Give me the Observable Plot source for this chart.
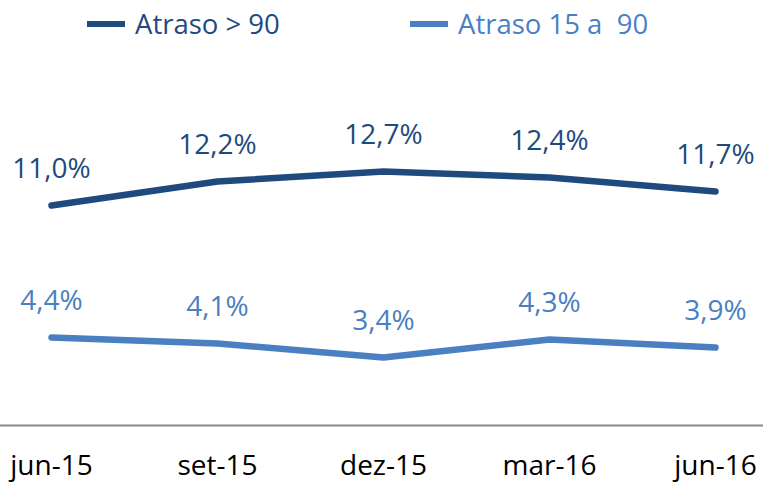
<!DOCTYPE html>
<html><head><meta charset="utf-8">
<script src="https://cdn.jsdelivr.net/npm/d3@7"></script>
<script src="https://cdn.jsdelivr.net/npm/@observablehq/plot@0.6"></script>
<style>
body{margin:0;background:#fff;font-family:"Open Sans",sans-serif;}
#wrap{position:relative;width:763px;height:482px;}
#legend{position:relative;height:50px;}
.lg{position:absolute;top:5px;display:flex;align-items:center;font-size:27.5px;}
.sw{width:38px;height:6px;margin-right:10px;}
#chart{position:absolute;top:50px;left:0;}
</style></head>
<body><div id="wrap"><div id="legend"></div><div id="chart"></div></div>
<script>
const periods = ["jun-15","set-15","dez-15","mar-16","jun-16"];
const series = ["Atraso > 90","Atraso 15 a  90"];
const over90 = [11.0,12.2,12.7,12.4,11.7];
const from15to90 = [4.4,4.1,3.4,4.3,3.9];
const colors = ["#1F4A7E","#4A7FC1"];

const data = [];
periods.forEach((p,i)=>{
  data.push({period:p, series:series[0], value:over90[i]});
  data.push({period:p, series:series[1], value:from15to90[i]});
});
const fmt = v => d3.format(".1f")(v).replace(".",",") + "%";

const leg = document.getElementById("legend");
const legPos = [87,410];
series.forEach((s,i)=>{
  const d = document.createElement("div");
  d.className="lg"; d.style.left=legPos[i]+"px"; d.style.color=colors[i];
  d.innerHTML = `<span class="sw" style="background:${colors[i]}"></span><span style="white-space:pre">${s}</span>`;
  leg.appendChild(d);
});

const chart = Plot.plot({
  width:763, height:432,
  marginLeft:0, marginRight:0, marginTop:0, marginBottom:57,
  style:{fontFamily:'"Open Sans",sans-serif', background:"#fff"},
  x:{type:"point", domain:periods, padding:0.288, align:0.52, label:null},
  y:{domain:[0,20], range:[375,-25], axis:null},
  color:{domain:series, range:colors},
  marks:[
    Plot.ruleY([0], {stroke:"#8a8a8a", strokeWidth:2}),
    Plot.line(data, {x:"period", y:"value", z:"series", stroke:"series", strokeWidth:6.5, strokeLinecap:"round", strokeLinejoin:"round"}),
    Plot.text(data, {x:"period", y:"value", text:d=>fmt(d.value), fill:"series", dy:-36, fontSize:28}),
    Plot.axisX({tickSize:0, tickPadding:30, fontSize:28, fill:"#000", label:null})
  ]
});
document.getElementById("chart").appendChild(chart);
</script></body></html>
